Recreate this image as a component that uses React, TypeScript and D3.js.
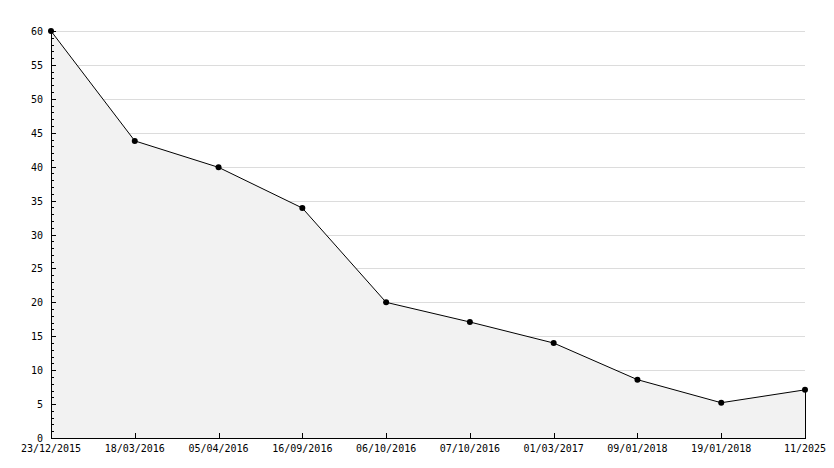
import React from "react";
import * as d3 from "d3";

const categories = ["23/12/2015", "18/03/2016", "05/04/2016", "16/09/2016", "06/10/2016", "07/10/2016", "01/03/2017", "09/01/2018", "19/01/2018", "11/2025"];
const values = [60, 43.8, 39.9, 33.9, 20, 17.1, 14, 8.6, 5.2, 7.1];
const yTicks = [0, 5, 10, 15, 20, 25, 30, 35, 40, 45, 50, 55, 60];

const W = 834, H = 468;
const L = 51, R = 805, T = 31, B = 438;

export default function App() {
  const x = d3.scalePoint<string>().domain(categories).range([L, R]);
  const y = d3.scaleLinear().domain([0, 60]).range([B, T]);
  const pts = categories.map((c, i) => [x(c)!, y(values[i])] as [number, number]);
  const line = d3.line()(pts)!;
  const area = d3.area<[number, number]>().x(d => d[0]).y0(B).y1(d => d[1])(pts)!;
  const minor = d3.range(0, 61, 1).filter(v => v % 5 !== 0);
  const font = "DejaVu Sans Mono, monospace";
  return (
    <svg width={W} height={H} style={{ position: "absolute", left: 0, top: 0 }} shapeRendering="crispEdges">
      <rect width={W} height={H} fill="#fff" />
      {yTicks.filter(v => v > 0).map(v => (
        <line key={"g" + v} x1={L} x2={R} y1={Math.round(y(v)) + 0.5} y2={Math.round(y(v)) + 0.5} stroke="#dcdcdc" />
      ))}
      <path d={area} fill="#f2f2f2" />
      <line x1={R + 0.5} x2={R + 0.5} y1={y(values[values.length - 1])} y2={B} stroke="#000" />
      <line x1={L + 0.5} x2={L + 0.5} y1={T} y2={B + 0.5} stroke="#000" />
      <line x1={L} x2={R + 1} y1={B + 0.5} y2={B + 0.5} stroke="#000" />
      {yTicks.map(v => (
        <g key={"t" + v}>
          <line x1={L} x2={L + 5} y1={Math.round(y(v)) + 0.5} y2={Math.round(y(v)) + 0.5} stroke="#000" />
          <text x={43} y={y(v) + 4} textAnchor="end" fontFamily={font} fontSize={10} fill="#000">{v}</text>
        </g>
      ))}
      {minor.map(v => (
        <line key={"m" + v} x1={L} x2={L + 3} y1={Math.round(y(v)) + 0.5} y2={Math.round(y(v)) + 0.5} stroke="#000" />
      ))}
      {categories.map(c => (
        <g key={c}>
          <line x1={Math.round(x(c)!) + 0.5} x2={Math.round(x(c)!) + 0.5} y1={B - 5} y2={B} stroke="#000" />
          <text x={x(c)!} y={B + 14} textAnchor="middle" fontFamily={font} fontSize={10} fill="#000">{c}</text>
        </g>
      ))}
      <path d={line} fill="none" stroke="#000" strokeWidth={1} shapeRendering="auto" />
      {pts.map((p, i) => (
        <circle key={i} cx={p[0]} cy={p[1]} r={3} fill="#000" shapeRendering="auto" />
      ))}
    </svg>
  );
}
